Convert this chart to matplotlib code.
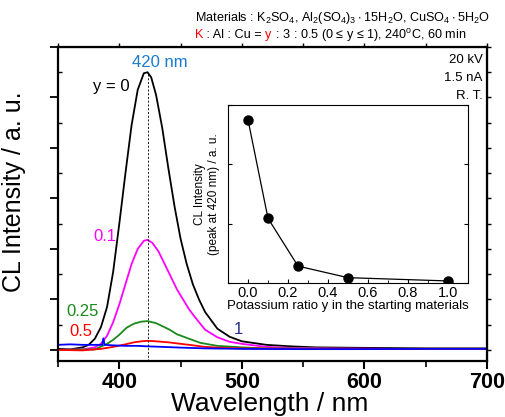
import numpy as np
import matplotlib
matplotlib.use("Agg")
import matplotlib.pyplot as plt
from matplotlib.ticker import MultipleLocator, NullFormatter

plt.rcParams['font.family'] = ['Liberation Sans', 'DejaVu Sans']
plt.rcParams['mathtext.default'] = 'regular'

# CL spectra (wavelength in nm, intensity in a.u.)
wl_0 = [350, 360, 370, 375, 380, 385, 390, 395, 400, 405, 410, 415, 420, 423, 426,
        430, 435, 440, 445, 450, 455, 460, 465, 470, 480, 490, 500, 520, 540, 560,
        600, 650, 700]
int_0 = [0.02, 0.01, 0.05, 0.1, 0.22, 0.45, 0.85, 1.55, 2.5, 3.5, 4.45, 5.15, 5.48, 5.5, 5.4,
         5.05, 4.4, 3.6, 2.85, 2.2, 1.7, 1.3, 1.0, 0.75, 0.42, 0.26, 0.17, 0.1, 0.07, 0.05,
         0.04, 0.03, 0.03]

wl_01 = [350, 370, 380, 385, 390, 395, 400, 405, 410, 415, 420, 423, 427, 432, 437,
         442, 447, 452, 457, 462, 470, 480, 490, 500, 520, 540, 570, 620, 700]
int_01 = [0.0, 0.01, 0.05, 0.12, 0.28, 0.55, 0.9, 1.3, 1.7, 2.0, 2.16, 2.18, 2.12, 1.95, 1.7,
          1.45, 1.2, 1.0, 0.8, 0.64, 0.4, 0.25, 0.16, 0.12, 0.06, 0.04, 0.03, 0.02, 0.02]

wl_025 = [350, 380, 390, 395, 400, 406, 412, 418, 423, 430, 436, 441, 447, 457, 466,
          480, 500, 520, 600, 700]
int_025 = [0.0, 0.01, 0.12, 0.2, 0.3, 0.44, 0.52, 0.56, 0.57, 0.53, 0.46, 0.4, 0.31, 0.22, 0.14,
           0.08, 0.05, 0.03, 0.02, 0.02]

wl_05 = [350, 370, 385, 395, 405, 412, 418, 423, 430, 440, 450, 457, 470, 485, 500, 550, 700]
int_05 = [0.0, -0.01, 0.02, 0.06, 0.11, 0.15, 0.17, 0.18, 0.17, 0.15, 0.12, 0.1, 0.06, 0.04,
          0.03, 0.02, 0.02]

wl_1 = [350, 360, 370, 380, 386, 387, 388, 395, 405, 415, 423, 435, 450, 470, 500, 550,
        600, 650, 700]
int_1 = [0.1, 0.11, 0.1, 0.1, 0.1, 0.23, 0.1, 0.09, 0.08, 0.08, 0.07, 0.06, 0.045, 0.03, 0.02,
         0.015, 0.015, 0.02, 0.02]

peak_wl = 423

# peak intensity vs potassium ratio
ratio_y = [0.0, 0.1, 0.25, 0.5, 1.0]
peak_int = [5.5, 2.18, 0.57, 0.18, 0.07]

fig = plt.figure(figsize=(5.05, 4.17), dpi=100)
ax = fig.add_axes([0.1149, 0.1343, 0.8495, 0.753])

ax.plot(wl_0, int_0, color='black', lw=1.3)
ax.plot(wl_01, int_01, color='#ff00ff', lw=1.3)
ax.plot(wl_025, int_025, color='#1a8a1a', lw=1.3)
ax.plot(wl_05, int_05, color='#ff0000', lw=1.3)
ax.plot(wl_1, int_1, color='#0000ff', lw=1.3)
ax.plot([peak_wl, peak_wl], [-0.22, 5.5], color='black', lw=0.6, ls=(0, (2.5, 2)))

ax.set_xlim(350, 700)
ax.set_ylim(-0.22, 6.0)
ax.xaxis.set_major_locator(MultipleLocator(100))
ax.xaxis.set_minor_locator(MultipleLocator(50))
ax.yaxis.set_major_locator(MultipleLocator(1))
ax.yaxis.set_minor_locator(MultipleLocator(0.5))
ax.set_yticklabels([])
for lbl in ax.get_xticklabels():
    lbl.set_fontweight('bold')
ax.tick_params(axis='x', which='major', direction='out', length=6, width=1.5,
               labelsize=15.5, pad=2)
ax.tick_params(axis='x', which='minor', direction='out', length=4, width=1.2)
ax.tick_params(axis='y', which='major', direction='out', length=6, width=1.3)
ax.tick_params(axis='y', which='minor', direction='in', length=3, width=1.0)
for s in ax.spines.values():
    s.set_linewidth(1.6)

top = ax.secondary_xaxis('top')
top.xaxis.set_major_locator(MultipleLocator(50))
top.xaxis.set_major_formatter(NullFormatter())
top.tick_params(direction='out', length=3, width=1.0)
right = ax.secondary_yaxis('right')
right.yaxis.set_major_locator(MultipleLocator(0.5))
right.yaxis.set_major_formatter(NullFormatter())
right.tick_params(direction='out', length=3, width=1.0)

ax.set_xlabel('Wavelength / nm', fontsize=19)
ax.xaxis.set_label_coords(0.494, -0.1)
ax.set_ylabel('CL Intensity / a. u.', fontsize=18)
ax.yaxis.set_label_coords(-0.075, 0.54)

# curve labels
ax.text(433, 5.7, '420 nm', color='#1a7acc', fontsize=12, ha='center', va='center')
ax.text(393.5, 5.22, 'y = 0', color='black', fontsize=12, ha='center', va='center')
ax.text(388, 2.25, '0.1', color='#ff00ff', fontsize=12, ha='center', va='center')
ax.text(370, 0.77, '0.25', color='#1a8a1a', fontsize=12, ha='center', va='center')
ax.text(368.5, 0.37, '0.5', color='#ff0000', fontsize=12, ha='center', va='center')
ax.text(497, 0.4, '1', color='#2a2a8a', fontsize=12, ha='center', va='center')
ax.text(0.99, 0.96, '20 kV', transform=ax.transAxes, fontsize=9.5, ha='right', va='center')
ax.text(0.99, 0.9, '1.5 nA', transform=ax.transAxes, fontsize=9.5, ha='right', va='center')
ax.text(0.99, 0.845, 'R. T.', transform=ax.transAxes, fontsize=9.5, ha='right', va='center')

# header
fig.text(0.386, 0.956, 'Materials : K$_2$SO$_4$, Al$_2$(SO$_4$)$_3\\cdot$15H$_2$O, '
         'CuSO$_4\\cdot$5H$_2$O', fontsize=9.1, va='center')
renderer = fig.canvas.get_renderer()
x = 0.386
for s, c in [('K', '#ff0000'), (' : Al : Cu = ', 'black'), ('y', '#ff0000'),
             (' : 3 : 0.5 (0 ≤ y ≤ 1), 240$^{o}$C, 60 min', 'black')]:
    t = fig.text(x, 0.916, s, color=c, fontsize=9.1, va='center')
    x += t.get_window_extent(renderer).width / fig.bbox.width

# inset: peak intensity vs ratio
ins = fig.add_axes([0.4515, 0.3213, 0.4752, 0.4269])
ins.plot(ratio_y, peak_int, color='black', lw=0.9, marker='o', ms=6.5)
ins.set_xlim(-0.1, 1.1)
ins.set_ylim(0, 6)
ins.xaxis.set_major_locator(MultipleLocator(0.2))
ins.xaxis.set_minor_locator(MultipleLocator(0.1))
ins.yaxis.set_major_locator(MultipleLocator(2))
ins.set_yticklabels([])
ins.tick_params(which='both', direction='in', right=True, labelsize=10.5, pad=2)
ins.tick_params(which='major', length=3, width=0.8)
ins.tick_params(which='minor', length=2, width=0.6)
for s in ins.spines.values():
    s.set_linewidth(0.8)
ins.set_xlabel('Potassium ratio y in the starting materials', fontsize=9.5, labelpad=0)
ins.set_ylabel('CL Intensity\n(peak at 420 nm) / a. u.', fontsize=8.5, labelpad=4)

fig.savefig('out.png', dpi=100)
